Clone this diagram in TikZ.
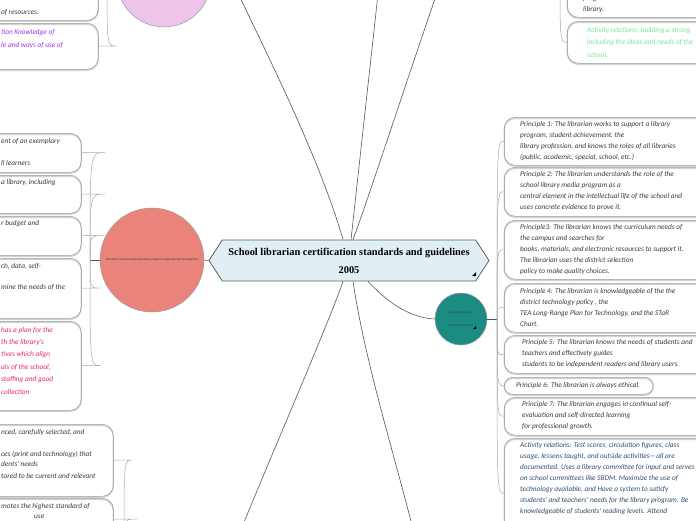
\documentclass[tikz,border=0pt]{standalone}
\usepackage{fontspec}
\setmainfont{Liberation Serif}
\newfontfamily\handfont{Carlito}
\usetikzlibrary{shapes.symbols,calc}
\definecolor{pinkfill}{HTML}{EEC4E8}
\definecolor{redfill}{HTML}{EA837A}
\definecolor{tealfill}{HTML}{1C8B82}
\definecolor{ctrfill}{HTML}{E1EEF4}
\definecolor{ctrborder}{HTML}{5A6068}
\definecolor{boxgray}{HTML}{9A9A9A}
\definecolor{shadowgray}{HTML}{D2D2D2}
\definecolor{brkgray}{HTML}{A8A8A8}
\definecolor{linegray}{HTML}{555555}
\definecolor{textdark}{HTML}{3A3A3A}
\definecolor{purpletext}{HTML}{A22EEA}
\definecolor{magentatext}{HTML}{E8246A}
\definecolor{greentext}{HTML}{74E69A}
\definecolor{acttext}{HTML}{2E4D6E}
\begin{document}
\begin{tikzpicture}[x=1pt,y=-1pt,
  hand/.style={font=\handfont\itshape\fontsize{7.3}{11}\selectfont},
  box/.style={draw=boxgray, line width=0.5pt, rounded corners=11pt, inner sep=0pt, anchor=north west,
    preaction={draw=shadowgray, line width=1.3pt, transform canvas={yshift=-1.1pt}}},
  brk/.style={draw=brkgray, line width=0.5pt},
  mainline/.style={draw=linegray, line width=0.6pt},
  txt/.style={hand, inner sep=0pt, align=left, text=textdark, anchor=west},
  ltxt/.style={hand, inner sep=0pt, anchor=west, text=textdark},
  bubble/.style={circle, draw=boxgray, line width=0.5pt, inner sep=0pt},
]
\useasboundingbox (0,0) rectangle (696,520);

% ---------- central node ----------
\node[signal, signal to=east and west, signal pointer angle=114,
      minimum width=280pt, minimum height=41pt, draw=ctrborder, line width=0.8pt,
      fill=ctrfill, inner sep=0pt, align=center,
      font=\bfseries\fontsize{10.4}{18}\selectfont] (ctr) at (349,260.5)
      {School librarian certification standards and guidelines\\2005};
\fill (472,276) -- (476,276) -- (476,272) -- cycle;

% ---------- off-picture ends ----------
\coordinate (t1) at (234,-15);
\coordinate (t2) at (379,-15);
\coordinate (t3) at (440,-15);
\coordinate (b1) at (243,525);
\coordinate (b2) at (412,525);

% ---------- bubbles ----------
\node[bubble, fill=pinkfill, minimum size=94pt] (pink) at (164,-20) {};
\node[bubble, fill=redfill, minimum size=104pt, text=textdark,
      font=\handfont\fontsize{3}{3.6}\selectfont] (red) at (152,260)
      {Standard II: Learner-Centered Library Program Leadership and Management};
\node[bubble, fill=tealfill, minimum size=52pt, align=center, text=textdark,
      font=\handfont\fontsize{2.8}{13}\selectfont] (teal) at (461,319)
      {Standard III: Learner-\\Centered Information};
\fill (473,329) -- (476,329) -- (476,326) -- cycle;

% ---------- connectors from the centre ----------
\draw[mainline] ($(ctr.north)+(-6,0)$) .. controls (320,160) and (270,60) .. (t1);
\draw[mainline] ($(ctr.north)+(2,0)$) -- (t2);
\draw[mainline] ($(ctr.north)+(4,0)$) .. controls (368,200) and (420,40) .. (t3);
\draw[mainline] ($(ctr.south)+(-6,0)$) .. controls (330,320) and (265,470) .. (b1);
\draw[mainline] ($(ctr.south)+(4,0)$) .. controls (365,360) and (390,440) .. (b2);
\draw[mainline] ($(ctr.south)+(19,0)$) .. controls (390,305) and (412,318) .. (teal.west);
\draw[mainline] (red.east) -- (ctr.west);

% ---------- hubs ----------
\coordinate (hubR) at (90,260);
\coordinate (hubT) at (497,319);
\coordinate (hubB) at (124,545);
\coordinate (hubP) at (107,-20);
\coordinate (hubU) at (560,-30);
\draw[mainline] (red.west) -- (hubR);
\draw[mainline] (teal.east) -- (hubT);
\draw[brk] (pink.west) -- (hubP);

% ---------- left boxes (pink bubble) ----------
\node[box, minimum width=138pt, minimum height=60pt] (bh) at (-40,-40) {};
\node[box, minimum width=138pt, minimum height=46pt] (bi) at (-40,23) {};
\node[ltxt] (bh1) at (1,12) {of resources.};
\node[ltxt, text=purpletext] (bi1) at (1,33) {tion Knowledge of};
\node[ltxt, text=purpletext] (bi2) at (1,46) {le and ways of use of};
\draw[brk] (hubP) .. controls (107,-5) .. (118,-5) -- (bh.east);
\draw[brk] (hubP) .. controls (107,46) .. (116,46) -- (bi.east);

% ---------- left boxes (red bubble) ----------
\node[box, minimum width=141pt, minimum height=39pt] (ba) at (-60,133) {};
\node[box, minimum width=141pt, minimum height=38pt] (bb) at (-60,175) {};
\node[box, minimum width=141pt, minimum height=39pt] (bc) at (-60,216) {};
\node[box, minimum width=141pt, minimum height=60pt] (bd) at (-60,258) {};
\node[box, minimum width=141pt, minimum height=89pt] (be) at (-60,321) {};
\node[ltxt] (ba1) at (1,142) {ent of an exemplary};
\node[ltxt] (ba2) at (1,163) {ll learners};
\node[ltxt] (bb1) at (1,183) {a library, including};
\node[ltxt] (bc1) at (1,224) {r budget and};
\node[ltxt] (bd1) at (1,266) {ch, data, self-};
\node[ltxt] (bd2) at (1,287) {mine the needs of the};
\node[ltxt, text=magentatext] (be1) at (1,331) {has a plan for the};
\node[ltxt, text=magentatext] (be2) at (1,343) {th the library's};
\node[ltxt, text=magentatext] (be3) at (1,355) {tives which align};
\node[ltxt, text=magentatext] (be4) at (1,367) {als of the school,};
\node[ltxt, text=magentatext] (be5) at (1,380) {staffing and good};
\node[ltxt, text=magentatext] (be6) at (1,392) {collection};
\draw[brk] (hubR) .. controls (90,152.5) .. (105,152.5) -- (ba.east);
\draw[brk] (hubR) .. controls (90,194) .. (105,194) -- (bb.east);
\draw[brk] (hubR) .. controls (90,235.5) .. (105,235.5) -- (bc.east);
\draw[brk] (hubR) .. controls (90,288) .. (100,288) -- (bd.east);
\draw[brk] (hubR) .. controls (90,365.5) .. (100,365.5) -- (be.east);

% ---------- left boxes (bottom) ----------
\node[box, minimum width=173pt, minimum height=72pt] (bf) at (-60,424) {};
\node[box, minimum width=173pt, minimum height=42pt] (bg) at (-60,498) {};
\node[ltxt] (bf1) at (1,433) {nced, carefully selected, and};
\node[ltxt] (bf2) at (1,454) {ces (print and technology) that};
\node[ltxt] (bf3) at (1,464) {dents' needs};
\node[ltxt] (bf4) at (1,476) {tored to be current and relevant};
\node[ltxt] (bg1) at (1,507) {motes the highest standard of};
\node[ltxt] (bg2) at (34,517) {use};
\draw[brk] (hubB) .. controls (124,460) .. (132,460) -- (bf.east);
\draw[brk] (hubB) .. controls (124,519) .. (137,519) -- (bg.east);

% ---------- upper right boxes ----------
\node[box, minimum width=153pt, minimum height=57pt] (bu1) at (567,-40) {};
\node[box, minimum width=153pt, minimum height=42pt] (bu2) at (567,21) {};
\node[txt, font=\handfont\itshape\fontsize{7.3}{10.5}\selectfont] (bu1t) at (583,4)
  {program discusses the curriculum in the\\library.};
\node[txt, text=greentext, font=\handfont\itshape\fontsize{7.3}{12.5}\selectfont] (bu2t) at (587,42)
  {Activity relations: building a strong\\including the ideas and needs of the\\school.};
\draw[brk] (hubU) .. controls (560,-11.5) .. (bu1.west);
\draw[brk] (hubU) .. controls (560,42) .. (bu2.west);

% ---------- right boxes (teal bubble) ----------
\node[box, minimum width=216pt, minimum height=48pt] (p1) at (504,117) {};
\node[box, minimum width=216pt, minimum height=49pt] (p2) at (504,167) {};
\node[box, minimum width=216pt, minimum height=59pt] (p3) at (504,220) {};
\node[box, minimum width=216pt, minimum height=49pt] (p4) at (504,283) {};
\node[box, minimum width=216pt, minimum height=38pt] (p5) at (504,335) {};
\node[box, minimum width=149pt, minimum height=17pt, rounded corners=8.5pt] (p6) at (504,377) {};
\node[box, minimum width=216pt, minimum height=38pt] (p7) at (504,397) {};
\node[box, minimum width=216pt, minimum height=110pt] (pa) at (504,438) {};

\node[txt] (p1t) at (520,141) {Principle 1: The librarian works to support a library\\program, student achievement, the\\library profession, and knows the roles of all libraries\\(public, academic, special, school, etc.)};
\node[txt] (p2t) at (520,191.5) {Principle 2: The librarian understands the role of the\\school library media program as a\\central element in the intellectual life of the school and\\uses concrete evidence to prove it.};
\node[txt] (p3t) at (520,249.5) {Principle3: The librarian knows the curriculum needs of\\the campus and searches for\\books, materials, and electronic resources to support it.\\The librarian uses the district selection\\policy to make quality choices.};
\node[txt] (p4t) at (520,307.5) {Principle 4: The librarian is knowledgeable of the the\\district technology policy , the\\TEA Long-Range Plan for Technology, and the STaR\\Chart.};
\node[txt] (p5t) at (522,354) {Principle 5: The librarian knows the needs of students and\\teachers and effectively guides\\students to be independent readers and library users.};
\node[txt] (p6t) at (516,385.5) {Principle 6: The librarian is always ethical.};
\node[txt] (p7t) at (522,416) {Principle 7: The librarian engages in continual self-\\evaluation and self-directed learning\\for professional growth.};
\node[txt, text=acttext] (pat) at (520,479) {Activity relations: Test scores, circulation figures, class\\usage, lessons taught, and outside activities—all are\\documented. Uses a library committee for input and serves\\on school committees like SBDM. Maximize the use of\\technology available, and Have a system to satisfy\\students' and teachers' needs for the library program. Be\\knowledgeable of students' reading levels. Attend};

\draw[brk] (hubT) .. controls (497,141) .. (p1.west);
\draw[brk] (hubT) .. controls (497,191.5) .. (p2.west);
\draw[brk] (hubT) .. controls (497,249.5) .. (p3.west);
\draw[brk] (hubT) .. controls (497,307.5) .. (p4.west);
\draw[brk] (hubT) .. controls (497,356) .. (p5.west);
\draw[brk] (hubT) .. controls (497,385.5) .. (p6.west);
\draw[brk] (hubT) .. controls (497,416) .. (p7.west);
\draw[brk] (hubT) .. controls (497,493) .. (pa.west);
\end{tikzpicture}
\end{document}
